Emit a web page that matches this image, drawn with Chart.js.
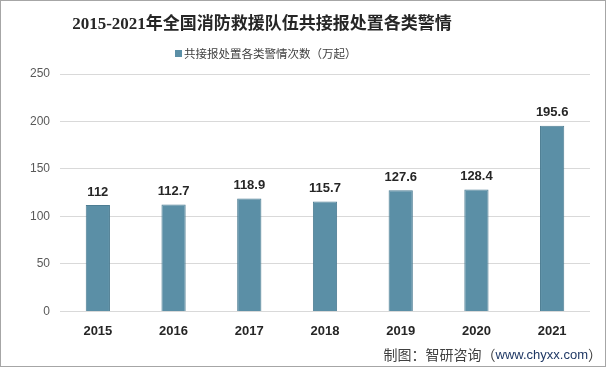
<!DOCTYPE html>
<html lang="zh">
<head>
<meta charset="UTF-8">
<title>2015-2021年全国消防救援队伍共接报处置各类警情</title>
<script src="https://cdn.jsdelivr.net/npm/chart.js"></script>
<style>
  html, body { margin: 0; padding: 0; background: #fff; }
  #wrap { width: 606px; height: 367px; position: relative; }
</style>
</head>
<body>
<div id="wrap"><canvas id="c" width="606" height="367"></canvas></div>
<script>
const years = ['2015', '2016', '2017', '2018', '2019', '2020', '2021'];
const cases = [112, 112.7, 118.9, 115.7, 127.6, 128.4, 195.6];
const seriesName = '共接报处置各类警情次数（万起）';
const titleText = '2015-2021年全国消防救援队伍共接报处置各类警情';
const sourceText = '制图：智研咨询（';
const sourceUrl = 'www.chyxx.com';
const barColor = '#5b8fa6';

// numbers above each bar
const valueLabels = {
  id: 'valueLabels',
  afterDatasetsDraw(chart) {
    const ctx = chart.ctx;
    const meta = chart.getDatasetMeta(0);
    ctx.save();
    ctx.font = 'bold 13px "Liberation Sans", sans-serif';
    ctx.fillStyle = '#262626';
    ctx.textAlign = 'center';
    ctx.textBaseline = 'middle';
    meta.data.forEach((bar, i) => {
      ctx.fillText(String(cases[i]), bar.x, bar.y - 13);
    });
    ctx.restore();
  }
};

// title, legend key, source line and frame
const frame = {
  id: 'frame',
  afterDraw(chart) {
    const ctx = chart.ctx;
    ctx.save();
    // title (sits left of centre like the original)
    ctx.font = 'bold 17px "Liberation Serif", "Noto Sans CJK SC", serif';
    ctx.fillStyle = '#262626';
    ctx.textAlign = 'center';
    ctx.textBaseline = 'middle';
    ctx.fillText(titleText, 262, 25);

    // legend
    ctx.font = '11.5px "Noto Sans CJK SC", sans-serif';
    ctx.textAlign = 'left';
    ctx.fillStyle = barColor;
    ctx.fillRect(175, 50, 7, 7);
    ctx.fillStyle = '#404040';
    ctx.fillText(seriesName, 184, 54);

    // source
    ctx.font = '14px "Noto Sans CJK SC", sans-serif';
    const y = 355;
    const w1 = ctx.measureText(sourceText).width;
    ctx.font = '13px "Liberation Sans", sans-serif';
    const w2 = ctx.measureText(sourceUrl).width;
    ctx.font = '14px "Noto Sans CJK SC", sans-serif';
    const w3 = ctx.measureText('）').width;
    const x = 602 - (w1 + w2 + w3);
    ctx.fillStyle = '#404040';
    ctx.fillText(sourceText, x, y);
    ctx.fillText('）', x + w1 + w2, y);
    ctx.font = '13px "Liberation Sans", sans-serif';
    ctx.fillStyle = '#1f3864';
    ctx.fillText(sourceUrl, x + w1, y);

    ctx.strokeStyle = '#a6a6a6';
    ctx.lineWidth = 1;
    ctx.strokeRect(0.5, 0.5, chart.width - 1, chart.height - 1);
    ctx.restore();
  }
};

new Chart(document.getElementById('c'), {
  type: 'bar',
  data: {
    labels: years,
    datasets: [{
      label: seriesName,
      data: cases,
      backgroundColor: barColor,
      borderColor: '#4d7d93',
      borderWidth: 1,
      barPercentage: 0.32,
      categoryPercentage: 1
    }]
  },
  options: {
    responsive: false,
    animation: false,
    devicePixelRatio: 1,
    layout: { padding: { left: 0, right: 16, top: 74, bottom: 24 } },
    plugins: {
      title: { display: false },
      legend: { display: false },
      tooltip: { enabled: false }
    },
    scales: {
      x: {
        grid: { display: false },
        border: { display: false },
        ticks: {
          color: '#262626',
          font: { size: 13, weight: 'bold', family: '"Liberation Sans", sans-serif' },
          padding: 4
        }
      },
      y: {
        min: 0,
        max: 250,
        afterFit(scale) { scale.width = 60; },
        grid: { color: '#d9d9d9', drawTicks: false },
        border: { display: false },
        ticks: {
          stepSize: 50,
          color: '#595959',
          font: { size: 12, family: '"Liberation Sans", sans-serif' },
          padding: 10
        }
      }
    }
  },
  plugins: [valueLabels, frame]
});
</script>
</body>
</html>
